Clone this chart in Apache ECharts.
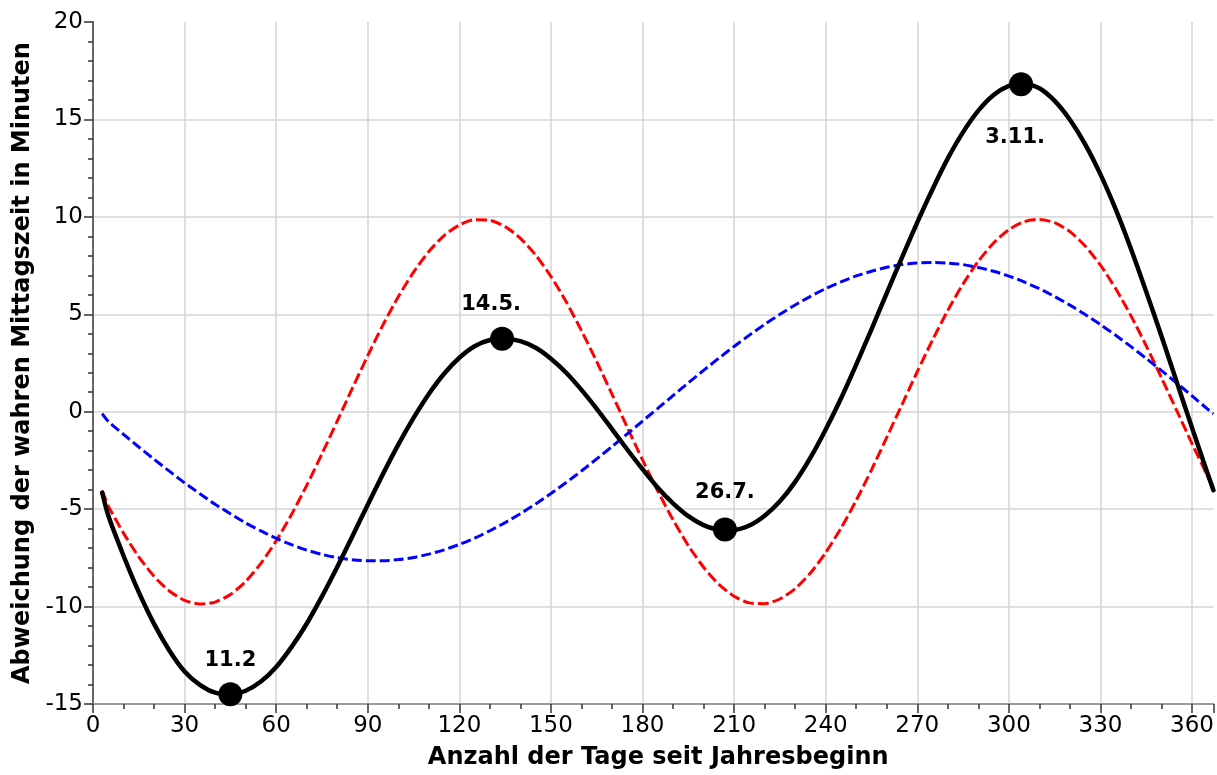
<!DOCTYPE html>
<html>
<head>
<meta charset="utf-8">
<script src="https://cdn.jsdelivr.net/npm/echarts@6/dist/echarts.min.js"></script>
<style>
html,body{margin:0;padding:0;background:#fff;}
#chart{width:1217px;height:775px;}
</style>
</head>
<body>
<div id="chart"></div>
<script>
// Days of the year (x values)
const days = [3,5,10,15,20,25,30,35,40,45,50,55,60,65,70,75,80,85,90,95,100,105,110,115,120,125,130,135,140,145,150,155,160,165,170,175,180,185,190,195,200,205,210,215,220,225,230,235,240,245,250,255,260,265,270,275,280,285,290,295,300,305,310,315,320,325,330,335,340,345,350,355,360,365,367];
// red dashed: obliquity component (minutes)
const redVals = [-4.05,-4.83,-6.23,-7.45,-8.45,-9.20,-9.68,-9.87,-9.77,-9.38,-8.71,-7.78,-6.63,-5.28,-3.78,-2.16,-0.48,1.22,2.88,4.46,5.90,7.16,8.22,9.04,9.58,9.85,9.82,9.50,8.90,8.04,6.94,5.64,4.16,2.57,0.90,-0.80,-2.47,-4.07,-5.55,-6.87,-7.98,-8.86,-9.47,-9.81,-9.85,-9.61,-9.08,-8.28,-7.23,-5.98,-4.55,-2.98,-1.32,0.37,2.06,3.68,5.20,6.56,7.72,8.66,9.34,9.75,9.87,9.70,9.24,8.50,7.52,6.31,4.92,3.38,1.74,0.05,-1.64,-3.28,-3.92];
// blue dashed: eccentricity component (minutes)
const blueVals = [-0.10,-0.50,-1.16,-1.81,-2.44,-3.05,-3.65,-4.21,-4.75,-5.24,-5.71,-6.12,-6.50,-6.82,-7.10,-7.32,-7.49,-7.60,-7.65,-7.65,-7.59,-7.48,-7.31,-7.09,-6.81,-6.49,-6.11,-5.69,-5.23,-4.73,-4.20,-3.63,-3.04,-2.42,-1.79,-1.14,-0.48,0.17,0.83,1.48,2.12,2.75,3.35,3.93,4.48,5.00,5.48,5.92,6.32,6.66,6.97,7.21,7.41,7.55,7.63,7.66,7.63,7.55,7.40,7.21,6.96,6.66,6.31,5.91,5.47,4.99,4.47,3.92,3.34,2.73,2.11,1.47,0.81,0.15,-0.11];
// black solid: deviation of true noon (minutes)
const blackVals = [-4.15,-5.33,-7.39,-9.26,-10.89,-12.25,-13.33,-14.02,-14.42,-14.5,-14.32,-13.85,-13.10,-12.08,-10.88,-9.48,-7.97,-6.38,-4.77,-3.19,-1.69,-0.32,0.91,1.95,2.77,3.36,3.68,3.75,3.62,3.28,2.72,2.0,1.12,0.15,-0.89,-1.94,-2.95,-3.90,-4.70,-5.36,-5.82,-6.05,-6.06,-5.84,-5.34,-4.6,-3.6,-2.36,-0.91,0.68,2.42,4.23,6.09,7.92,9.72,11.42,13.0,14.35,15.45,16.25,16.72,16.85,16.6,15.95,14.98,13.72,12.18,10.38,8.35,6.15,3.87,1.52,-0.83,-3.13,-4.03];
// highlighted extremes
const markDays = [45,134,207,304];
const markVals = [-14.5,3.75,-6.05,16.8];
const markLabels = ['11.2','14.5.','26.7.','3.11.'];
// axis tick labels
const xTicks = [0,30,60,90,120,150,180,210,240,270,300,330,360];
const yTicks = [-15,-10,-5,0,5,10,15,20];

const pair = vals => days.map((d,i)=>[d, vals[i]]);
const gridCol = '#d4d4d4';
const xSplitColors = xTicks.map(()=>gridCol).concat(['rgba(0,0,0,0)']);
const ySplitColors = yTicks.map((v,i)=> i===yTicks.length-1 ? 'rgba(0,0,0,0)' : gridCol);

const labelPlace = [
  {position:'top', distance:11, offset:[0,0]},
  {position:'top', distance:12, offset:[-11,0]},
  {position:'top', distance:15, offset:[0,0]},
  {position:'bottom', distance:31, offset:[-6,0]}
];

const chart = echarts.init(document.getElementById('chart'), null, {renderer:'canvas'});
chart.setOption({
  animation:false,
  backgroundColor:'#ffffff',
  grid:{left:93, right:1, top:22, bottom:69, containLabel:false},
  xAxis:{
    type:'value', min:0, max:367, interval:30,
    name:'Anzahl der Tage seit Jahresbeginn', nameLocation:'middle', nameGap:42,
    nameTextStyle:{fontFamily:'DejaVu Sans', fontWeight:'bold', fontSize:24, color:'#000', padding:[0,0,0,10]},
    axisLine:{show:true, onZero:false, lineStyle:{color:'#9a9a9a', width:2}},
    axisTick:{show:true, inside:false, length:9, lineStyle:{color:'#333', width:1.5}},
    minorTick:{show:true, splitNumber:3, length:5, lineStyle:{color:'#333', width:1.5}},
    axisLabel:{color:'#000', fontFamily:'DejaVu Sans', fontSize:23, margin:11, showMaxLabel:false,
      formatter: v => xTicks.includes(v) ? String(v) : ''},
    splitLine:{show:true, lineStyle:{color:xSplitColors, width:1.5}}
  },
  yAxis:{
    type:'value', min:-15, max:20, interval:5,
    name:'Abweichung der wahren Mittagszeit in Minuten', nameLocation:'middle', nameGap:52,
    nameTextStyle:{fontFamily:'DejaVu Sans', fontWeight:'bold', fontSize:24, color:'#000'},
    axisLine:{show:true, onZero:false, lineStyle:{color:'#666', width:2}},
    axisTick:{show:true, inside:false, length:9, lineStyle:{color:'#333', width:1.5}},
    minorTick:{show:true, splitNumber:5, length:5, lineStyle:{color:'#333', width:1.5}},
    axisLabel:{color:'#000', fontFamily:'DejaVu Sans', fontSize:23, margin:10,
      formatter: v => yTicks.includes(v) ? String(v) : ''},
    splitLine:{show:true, lineStyle:{color:ySplitColors, width:1.5}}
  },
  series:[
    {type:'line', data:pair(redVals), showSymbol:false, smooth:0.25, z:2,
      lineStyle:{color:'#ff0000', width:3, type:[11,4]}},
    {type:'line', data:pair(blueVals), showSymbol:false, smooth:0.25, z:2,
      lineStyle:{color:'#0000ff', width:3, type:[10,4]}},
    {type:'line', data:pair(blackVals), showSymbol:false, smooth:0.25, z:3,
      lineStyle:{color:'#000000', width:4.5, join:'round', cap:'round'}},
    {type:'scatter', z:4, symbol:'circle', symbolSize:24,
      itemStyle:{color:'#000', opacity:1},
      data: markDays.map((d,i)=>({
        value:[d, markVals[i]],
        label:{show:true, formatter:markLabels[i], position:labelPlace[i].position,
          distance:labelPlace[i].distance, offset:labelPlace[i].offset,
          fontFamily:'DejaVu Sans', fontWeight:'bold', fontSize:21, color:'#000', opacity:1}
      }))}
  ]
});
</script>
</body>
</html>
